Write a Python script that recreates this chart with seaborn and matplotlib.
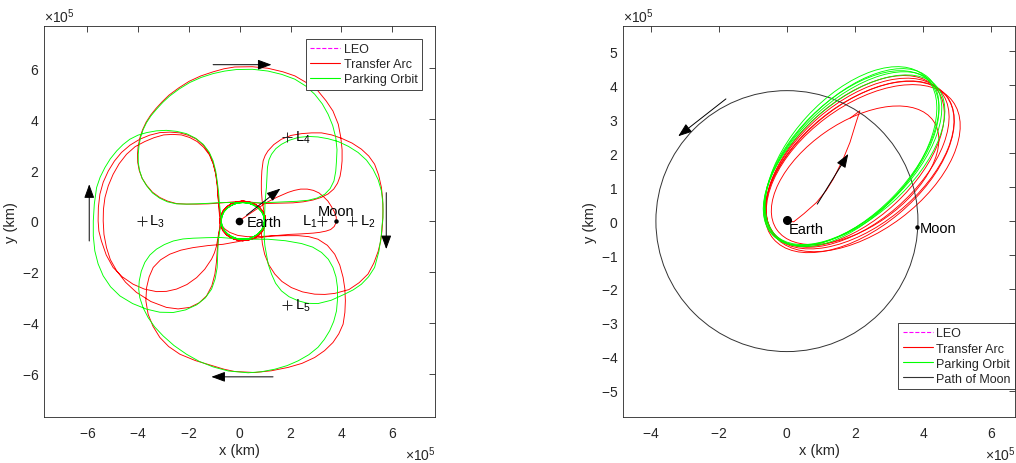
import matplotlib
matplotlib.use("Agg")
import matplotlib.pyplot as plt
from matplotlib.patches import Ellipse, Circle
from matplotlib.lines import Line2D
from matplotlib.ticker import ScalarFormatter
import seaborn as sns

KM = 1e5  # all values below are read in units of 1e5 km

# ===================== LEFT PANEL (rotating frame) =====================
# Parking orbit (green): four apogee passages joined by perigee loops
GT_X = [-0.79, -1.25, -1.70, -2.10, -2.49, -2.85, -3.15, -3.44, -3.67, -3.84, -3.94, -4.00, -4.00, -3.97, -3.91,
        -3.81, -3.67, -3.49, -3.28, -3.03, -2.76, -2.38, -1.97, -1.52, -1.05, -0.59, -0.13, 0.50, 1.11, 1.65,
        2.17, 2.60, 2.95, 3.25, 3.48, 3.66, 3.78, 3.83, 3.81, 3.78, 3.71, 3.56, 3.35, 3.05, 2.69, 2.25, 1.77,
        1.30, 0.85]
GT_Y = [0.72, 0.69, 0.67, 0.66, 0.67, 0.75, 0.89, 1.10, 1.38, 1.66, 1.96, 2.29, 2.62, 2.95, 3.28,
        3.58, 3.87, 4.14, 4.39, 4.66, 4.91, 5.19, 5.44, 5.64, 5.79, 5.89, 5.95, 5.96, 5.89, 5.76,
        5.57, 5.30, 4.98, 4.60, 4.19, 3.75, 3.28, 2.80, 2.36, 1.95, 1.57, 1.27, 1.05, 0.90, 0.81, 0.77, 0.75,
        0.73, 0.71]
GR_X = [1.00, 1.05, 1.07, 1.09, 1.15, 1.25, 1.42, 1.64, 1.95, 2.30, 2.70, 3.08, 3.48, 3.87, 4.28, 4.66, 4.99,
        5.25, 5.45, 5.58, 5.64, 5.64, 5.60, 5.58, 5.48, 5.31, 5.07, 4.79, 4.47, 4.13, 3.60, 3.08, 2.68, 2.30,
        1.94, 1.64, 1.41, 1.25, 1.12, 1.05, 0.99, 0.96]
GR_Y = [0.80, 1.31, 1.72, 2.10, 2.40, 2.62, 2.84, 3.01, 3.17, 3.28, 3.32, 3.30, 3.23, 3.12, 2.93, 2.69, 2.39,
        2.03, 1.62, 1.18, 0.66, 0.13, -0.20, -0.52, -1.20, -1.83, -2.20, -2.49, -2.71, -2.88, -3.12, -3.25,
        -3.24, -3.14, -2.98, -2.75, -2.45, -2.09, -1.70, -1.31, -0.98, -0.65]
GB_X = [1.11, 1.80, 2.43, 2.87, 3.22, 3.49, 3.67, 3.79, 3.85, 3.85, 3.81, 3.70, 3.54, 3.33, 3.08, 2.72, 2.30,
        1.86, 1.38, 0.85, 0.33, -0.45, -1.05, -1.60, -2.10, -2.59, -3.02, -3.35, -3.61, -3.81, -3.94, -3.98,
        -3.96, -3.88, -3.74, -3.54, -3.28, -2.97, -2.62, -2.24, -1.84, -1.30, -0.79]
GB_Y = [-0.72, -0.78, -0.89, -1.03, -1.24, -1.51, -1.83, -2.20, -2.62, -3.08, -3.54, -3.95, -4.32, -4.66,
        -4.97, -5.26, -5.50, -5.69, -5.83, -5.93, -5.97, -5.90, -5.74, -5.52, -5.24, -4.90, -4.52, -4.17,
        -3.80, -3.41, -3.01, -2.68, -2.36, -1.98, -1.63, -1.34, -1.11, -0.93, -0.79, -0.71, -0.68, -0.66, -0.65]
GL_X = [-0.85, -0.87, -0.89, -0.97, -1.11, -1.36, -1.70, -2.14, -2.62, -3.15, -3.67, -4.22, -4.72, -5.09,
        -5.38, -5.58, -5.71, -5.77, -5.77, -5.73, -5.64, -5.50, -5.31, -5.10, -4.85, -4.60, -4.33, -4.01,
        -3.67, -3.28, -2.89, -2.49, -2.10, -1.74, -1.44, -1.21, -1.05, -0.95, -0.89, -0.84, -0.81]
GL_Y = [-0.79, -1.30, -1.83, -2.28, -2.68, -3.03, -3.30, -3.50, -3.60, -3.59, -3.47, -3.25, -2.95, -2.59,
        -2.16, -1.69, -1.18, -0.59, 0.00, 0.66, 1.31, 1.72, 2.10, 2.44, 2.75, 3.00, 3.21, 3.37,
        3.47, 3.54, 3.56, 3.52, 3.43, 3.25, 3.01, 2.71, 2.36, 1.97, 1.57, 1.18, 0.79]
# perigee loop around the Earth, every 15 deg starting at the top and turning counter-clockwise
G_LOOP_X = [0.12, -0.10, -0.31, -0.48, -0.62, -0.70, -0.73, -0.70, -0.62, -0.48, -0.31, -0.10,
            0.12, 0.34, 0.55, 0.72, 0.86, 0.94, 0.97, 0.94, 0.86, 0.72, 0.55, 0.34]
G_LOOP_Y = [0.72, 0.70, 0.62, 0.51, 0.36, 0.19, 0.00, -0.19, -0.36, -0.51, -0.62, -0.70,
            -0.72, -0.70, -0.62, -0.51, -0.36, -0.19, 0.00, 0.19, 0.36, 0.51, 0.62, 0.70]

# Transfer arc (red): lunar loop, then five apogee passages
RM_X = [-0.05, 0.12, 0.30, 0.66, 1.05, 1.44, 1.90, 2.15, 2.40, 2.66, 2.90, 3.12, 3.30, 3.47, 3.60, 3.72, 3.80,
        3.80, 3.72, 3.58, 3.40, 3.15, 2.89, 2.43, 1.97, 1.50, 1.05, 0.68, 0.30, -0.08, -0.40, -0.60, -0.72]
RM_Y = [0.00, 0.10, 0.22, 0.46, 0.72, 0.92, 1.12, 1.20, 1.25, 1.25, 1.20, 1.10, 0.95, 0.78, 0.58, 0.37, 0.15,
        -0.05, -0.22, -0.34, -0.40, -0.45, -0.48, -0.51, -0.53, -0.57, -0.60, -0.62, -0.62, -0.57, -0.45,
        -0.31, -0.15]
RLA_X = [-0.81, -0.85, -0.92, -1.00, -1.11, -1.38, -1.70, -2.08, -2.49, -2.89, -3.28, -3.76, -4.20, -4.64,
         -4.99, -5.26, -5.45, -5.55, -5.58, -5.57, -5.51, -5.38, -5.18, -4.94, -4.66, -4.32, -3.94, -3.55,
         -3.15, -2.75, -2.36, -2.01, -1.70, -1.41, -1.18, -1.04, -0.94, -0.88, -0.85, -0.81]
RLA_Y = [-0.40, -0.60, -1.00, -1.26, -1.50, -1.90, -2.23, -2.50, -2.68, -2.77, -2.78, -2.68, -2.49, -2.19,
         -1.83, -1.34, -0.79, -0.40, 0.00, 0.53, 1.05, 1.52, 1.96, 2.35, 2.69, 2.98, 3.21, 3.37,
         3.47, 3.49, 3.46, 3.36, 3.21, 2.95, 2.62, 2.24, 1.83, 1.37, 0.92, 0.45]
RT_X = [-0.80, -1.25, -1.70, -2.10, -2.49, -2.85, -3.15, -3.44, -3.67, -3.85, -3.96, -4.02, -4.03, -4.00,
        -3.93, -3.83, -3.69, -3.51, -3.30, -3.05, -2.78, -2.40, -1.99, -1.53, -1.05, -0.62, -0.20, 0.50, 1.11,
        1.70, 2.17, 2.65, 3.08, 3.40, 3.67, 3.88, 3.98, 4.03, 4.03, 4.00, 3.95, 3.85, 3.70, 3.48, 3.20, 2.88,
        2.50, 2.10, 1.70, 1.30, 0.90]
RT_Y = [0.70, 0.67, 0.66, 0.66, 0.68, 0.78, 0.92, 1.13, 1.40, 1.68, 1.98, 2.30, 2.62, 2.95,
        3.28, 3.58, 3.88, 4.16, 4.42, 4.69, 4.95, 5.23, 5.49, 5.70, 5.86, 5.98, 6.05, 6.06, 6.00,
        5.86, 5.70, 5.42, 5.11, 4.72, 4.32, 3.80, 3.28, 2.80, 2.36, 2.05, 1.75, 1.48, 1.25, 1.06, 0.92, 0.82,
        0.75, 0.71, 0.70, 0.69, 0.68]
RR_X = [0.88, 0.85, 0.85, 0.87, 0.92, 1.00, 1.11, 1.34, 1.64, 2.02, 2.43, 2.83, 3.22, 3.62, 4.00, 4.42, 4.79,
        5.08, 5.31, 5.47, 5.58, 5.63, 5.64, 5.63, 5.60, 5.55, 5.45, 5.28, 5.05, 4.70, 4.30, 3.74, 3.35, 2.95,
        2.47, 2.03, 1.66, 1.38, 1.14, 0.98, 0.89, 0.85]
RR_Y = [0.80, 1.20, 1.57, 1.97, 2.36, 2.57, 2.75, 3.00, 3.21, 3.36, 3.43, 3.46, 3.46, 3.38, 3.25, 3.06, 2.82,
        2.55, 2.23, 1.80, 1.31, 0.85, 0.39, 0.00, -0.40, -0.80, -1.20, -1.66, -2.09, -2.43, -2.70, -2.85,
        -2.89, -2.88, -2.79, -2.62, -2.38, -2.09, -1.72, -1.31, -0.90, -0.50]
RB_X = [0.65, 1.20, 1.75, 2.30, 2.72, 3.08, 3.45, 3.74, 3.94, 4.07, 4.14, 4.16, 4.14, 4.07, 3.90, 3.67, 3.34,
        2.95, 2.45, 1.90, 1.25, 0.59, -0.20, -0.62, -1.05, -1.75, -2.36, -2.80, -3.15, -3.42, -3.61, -3.70,
        -3.67, -3.57, -3.41, -3.12, -2.76, -2.32, -1.84, -1.25, -0.66]
RB_Y = [-0.68, -0.60, -0.58, -0.58, -0.62, -0.72, -0.96, -1.31, -1.74, -2.22, -2.68, -3.14, -3.60, -4.06,
        -4.44, -4.78, -5.10, -5.37, -5.60, -5.76, -5.89, -5.96, -5.92, -5.83, -5.70, -5.49, -5.24, -4.94,
        -4.58, -4.14, -3.67, -3.14, -2.62, -2.20, -1.83, -1.53, -1.31, -1.15, -1.05, -0.97, -0.92]
RLB_X = [-0.80, -0.84, -0.89, -0.92, -0.98, -1.10, -1.31, -1.60, -1.97, -2.43, -2.89, -3.50, -4.07, -4.50,
         -4.85, -5.10, -5.25, -5.35, -5.38, -5.37, -5.31, -5.18, -4.99, -4.75, -4.46, -4.12, -3.74, -3.38,
         -3.00, -2.65, -2.30, -1.98, -1.68, -1.42, -1.20, -1.05, -0.95, -0.89, -0.86, -0.82, -0.80]
RLB_Y = [-0.30, -0.70, -1.18, -1.63, -2.09, -2.55, -2.95, -3.22, -3.40, -3.46, -3.40, -3.17, -2.81, -2.41,
         -1.96, -1.52, -1.05, -0.53, 0.00, 0.46, 0.92, 1.38, 1.83, 2.25, 2.62, 2.92, 3.12, 3.27,
         3.38, 3.40, 3.38, 3.28, 3.12, 2.89, 2.60, 2.25, 1.85, 1.40, 0.95, 0.55, 0.20]
R_LOOP_X = [0.12, -0.11, -0.33, -0.52, -0.66, -0.75, -0.78, -0.75, -0.66, -0.52, -0.33, -0.11,
            0.12, 0.35, 0.57, 0.76, 0.90, 0.99, 1.02, 0.99, 0.90, 0.76, 0.57, 0.35]
R_LOOP_Y = [0.78, 0.75, 0.68, 0.55, 0.39, 0.20, 0.00, -0.20, -0.39, -0.55, -0.68, -0.75,
            -0.78, -0.75, -0.68, -0.55, -0.39, -0.20, 0.00, 0.20, 0.39, 0.55, 0.68, 0.75]

# order in which the perigee loop points are visited between two passages
SEG_TOP_TO_RIGHT = list(range(0, 19))
SEG_RIGHT_TO_BOTTOM = list(range(18, 24)) + list(range(0, 13))
SEG_BOTTOM_TO_LEFT = list(range(12, 24)) + list(range(0, 7))
SEG_LEFT_TO_TOP = list(range(6, 24)) + [0]

LAG_X = [3.22, 4.42, -3.87, 1.86, 1.86]
LAG_Y = [0.00, 0.00, 0.00, 3.31, -3.31]
LAG_LABEL = ["1", "2", "3", "4", "5"]
LAG_TEXT_X = [3.04, 4.75, -3.58, 2.18, 2.18]
LAG_TEXT_HA = ["right", "left", "left", "left", "left"]
EARTH_ROT = [-0.05, 0.00]
MOON_ROT = [3.78, 0.00]
LEO_R = 0.06678

ARR_L_TAIL_X = [-1.05, 5.77, 1.31, -5.93, 0.26]
ARR_L_TAIL_Y = [6.14, 1.11, -6.13, -0.79, 0.22]
ARR_L_HEAD_X = [1.25, 5.77, -1.12, -5.93, 1.60]
ARR_L_HEAD_Y = [6.14, -1.11, -6.13, 1.44, 1.27]

# ===================== RIGHT PANEL (inertial frame) =====================
ORB_G_CX = [1.88, 1.90, 1.93, 1.97, 1.90]
ORB_G_CY = [1.90, 1.88, 1.84, 1.80, 1.87]
ORB_G_W = [6.42, 6.50, 6.50, 6.50, 6.40]
ORB_G_H = [3.50, 3.36, 3.36, 3.36, 3.40]
ORB_G_ANG = [47.7, 46, 44, 42, 45]

ORB_R_CX = [2.00, 2.24, 2.14, 2.13, 2.07, 2.00]
ORB_R_CY = [1.35, 1.56, 1.65, 1.60, 1.72, 1.77]
ORB_R_W = [5.60, 6.56, 6.50, 6.60, 6.44, 6.40]
ORB_R_H = [3.08, 3.68, 3.56, 3.60, 3.50, 3.44]
ORB_R_ANG = [35, 37, 39, 40, 41, 43]

TRANSFER_X = [0.00, 0.20, 0.50, 0.87, 1.15, 1.36, 1.65, 1.85, 2.03, 2.14, 1.85]
TRANSFER_Y = [0.00, -0.02, 0.22, 0.55, 0.90, 1.24, 1.83, 2.32, 2.91, 3.25, 3.03]

MOON_ORBIT_R = 3.844
EARTH_IN = [0.00, 0.02]
MOON_IN = [3.81, -0.17]

ARR_R_TAIL_X = [-1.79, 0.89]
ARR_R_TAIL_Y = [3.60, 0.50]
ARR_R_HEAD_X = [-3.19, 1.80]
ARR_R_HEAD_Y = [2.50, 1.98]

# ===================== styling =====================
sns.set_theme(style="white")
plt.rcParams.update({
    "font.family": ["Liberation Sans", "DejaVu Sans"],
    "axes.unicode_minus": False,
    "mathtext.fontset": "custom",
    "mathtext.rm": "Liberation Sans",
    "mathtext.it": "Liberation Sans:italic",
    "mathtext.bf": "Liberation Sans:bold",
    "xtick.direction": "in",
    "ytick.direction": "in",
    "xtick.top": True,
    "ytick.right": True,
})
INK = "#262626"
RED = "#ff0000"
GREEN = "#00ff00"
MAG = "#ff00ff"

fig = plt.figure(figsize=(10.16, 4.64), dpi=100)
axL = fig.add_axes([0.0436, 0.0985, 0.3848, 0.8427])
axR = fig.add_axes([0.6135, 0.0985, 0.3858, 0.8427])


def build(parts):
    xs, ys = [], []
    for px, py in parts:
        xs += list(px)
        ys += list(py)
    return [v * KM for v in xs], [v * KM for v in ys]


def loop(lx, ly, idx):
    return [lx[i] for i in idx], [ly[i] for i in idx]


green_x, green_y = build([
    (GT_X, GT_Y), loop(G_LOOP_X, G_LOOP_Y, SEG_TOP_TO_RIGHT),
    (GR_X, GR_Y), loop(G_LOOP_X, G_LOOP_Y, SEG_RIGHT_TO_BOTTOM),
    (GB_X, GB_Y), loop(G_LOOP_X, G_LOOP_Y, SEG_BOTTOM_TO_LEFT),
    (GL_X, GL_Y), loop(G_LOOP_X, G_LOOP_Y, SEG_LEFT_TO_TOP),
    (GT_X[:1], GT_Y[:1]),
])
red_x, red_y = build([
    (RM_X, RM_Y), (RLA_X, RLA_Y), loop(R_LOOP_X, R_LOOP_Y, SEG_LEFT_TO_TOP),
    (RT_X, RT_Y), loop(R_LOOP_X, R_LOOP_Y, SEG_TOP_TO_RIGHT),
    (RR_X, RR_Y), loop(R_LOOP_X, R_LOOP_Y, SEG_RIGHT_TO_BOTTOM),
    (RB_X, RB_Y), loop(R_LOOP_X, R_LOOP_Y, SEG_BOTTOM_TO_LEFT),
    (RLB_X, RLB_Y),
])

LW = 0.65
arrow_kw = dict(arrowstyle="-|>,head_length=0.6,head_width=0.22", mutation_scale=14,
                lw=0.7, color="black", shrinkA=0, shrinkB=0)

# ---- left panel ----
axL.add_patch(Circle((EARTH_ROT[0] * KM, EARTH_ROT[1] * KM), LEO_R * KM, fill=False,
                     ec=MAG, ls="--", lw=LW, zorder=2))
sns.lineplot(x=red_x, y=red_y, sort=False, estimator=None, color=RED, lw=LW, ax=axL, legend=False, zorder=2)
sns.lineplot(x=green_x, y=green_y, sort=False, estimator=None, color=GREEN, lw=LW, ax=axL, legend=False,
             zorder=3)
for ln in axL.get_lines():
    ln.set_solid_joinstyle("round")

for tx, ty, hx, hy in zip(ARR_L_TAIL_X, ARR_L_TAIL_Y, ARR_L_HEAD_X, ARR_L_HEAD_Y):
    axL.annotate("", xy=(hx * KM, hy * KM), xytext=(tx * KM, ty * KM), arrowprops=arrow_kw, zorder=6)

axL.plot([v * KM for v in LAG_X], [v * KM for v in LAG_Y], ls="none", marker="+", ms=7, mew=0.7,
         color=INK, zorder=5)
for lab, lx, ly, ha in zip(LAG_LABEL, LAG_TEXT_X, LAG_Y, LAG_TEXT_HA):
    axL.text(lx * KM, ly * KM, r"$\mathregular{L_{%s}}$" % lab, ha=ha, va="center", fontsize=10.5,
             color="black", zorder=6)
axL.plot([EARTH_ROT[0] * KM], [EARTH_ROT[1] * KM], "o", color="black", ms=4.5, zorder=6)
axL.plot([MOON_ROT[0] * KM], [MOON_ROT[1] * KM], "o", color="black", ms=2.2, zorder=6)
axL.text(0.29 * KM, -0.04 * KM, "Earth", ha="left", va="center", fontsize=10.5, color="black", zorder=6)
axL.text(3.81 * KM, 0.39 * KM, "Moon", ha="center", va="center", fontsize=10.5, color="black", zorder=6)

axL.set_xlim(-7.7 * KM, 7.7 * KM)
axL.set_ylim(-7.72 * KM, 7.65 * KM)
axL.set_xticks([v * KM for v in [-6, -4, -2, 0, 2, 4, 6]])
axL.set_yticks([v * KM for v in [-6, -4, -2, 0, 2, 4, 6]])

# ---- right panel ----
for cx, cy, w, h, a in zip(ORB_R_CX, ORB_R_CY, ORB_R_W, ORB_R_H, ORB_R_ANG):
    axR.add_patch(Ellipse((cx * KM, cy * KM), w * KM, h * KM, angle=a, fill=False, ec=RED, lw=LW, zorder=2))
sns.lineplot(x=[v * KM for v in TRANSFER_X], y=[v * KM for v in TRANSFER_Y], sort=False, estimator=None,
             color=RED, lw=LW, ax=axR, legend=False, zorder=2)
for cx, cy, w, h, a in zip(ORB_G_CX, ORB_G_CY, ORB_G_W, ORB_G_H, ORB_G_ANG):
    axR.add_patch(Ellipse((cx * KM, cy * KM), w * KM, h * KM, angle=a, fill=False, ec=GREEN, lw=LW, zorder=3))
axR.add_patch(Circle((0, 0), MOON_ORBIT_R * KM, fill=False, ec="#333333", lw=0.7, zorder=2))
axR.add_patch(Circle((EARTH_IN[0] * KM, EARTH_IN[1] * KM), LEO_R * KM, fill=False, ec=MAG, ls="--", lw=LW,
                     zorder=2))

for tx, ty, hx, hy in zip(ARR_R_TAIL_X, ARR_R_TAIL_Y, ARR_R_HEAD_X, ARR_R_HEAD_Y):
    axR.annotate("", xy=(hx * KM, hy * KM), xytext=(tx * KM, ty * KM), arrowprops=arrow_kw, zorder=6)

axR.plot([EARTH_IN[0] * KM], [EARTH_IN[1] * KM], "o", color="black", ms=5.5, zorder=6)
axR.plot([MOON_IN[0] * KM], [MOON_IN[1] * KM], "o", color="black", ms=2.2, zorder=6)
axR.text(0.04 * KM, -0.24 * KM, "Earth", ha="left", va="center", fontsize=10.5, color="black", zorder=6)
axR.text(3.90 * KM, -0.21 * KM, "Moon", ha="left", va="center", fontsize=10.5, color="black", zorder=6)

axR.set_xlim(-4.8 * KM, 6.7 * KM)
axR.set_ylim(-5.78 * KM, 5.74 * KM)
axR.set_xticks([v * KM for v in [-4, -2, 0, 2, 4, 6]])
axR.set_yticks([v * KM for v in range(-5, 6)])

# ---- common axes styling ----
for ax in (axL, axR):
    for s in ax.spines.values():
        s.set_color(INK)
        s.set_linewidth(0.6)
        s.set_visible(True)
    ax.tick_params(axis="both", which="major", length=4, width=0.6, color=INK, labelcolor=INK,
                   labelsize=10, top=True, right=True, direction="in")
    ax.tick_params(axis="x", pad=6.5)
    ax.tick_params(axis="y", pad=3.5)
    for axis in (ax.xaxis, ax.yaxis):
        fmt = ScalarFormatter(useMathText=True)
        fmt.set_powerlimits((0, 0))
        axis.set_major_formatter(fmt)
        axis.get_offset_text().set_fontsize(10)
        axis.get_offset_text().set_color(INK)
    ax.set_xlabel("x (km)", fontsize=10.5, color=INK, labelpad=2)
    ax.set_ylabel("y (km)", fontsize=10.5, color=INK, labelpad=3)
    ax.grid(False)
    ax.set_facecolor("white")

legend_kw = dict(fontsize=9, handlelength=2.4, handletextpad=0.3, borderpad=0.35, labelspacing=0.25,
                 fancybox=False, framealpha=1, edgecolor=INK, borderaxespad=0)
h_leo = Line2D([], [], color=MAG, ls="--", lw=0.8)
h_tr = Line2D([], [], color=RED, lw=0.8)
h_pk = Line2D([], [], color=GREEN, lw=0.8)
h_mo = Line2D([], [], color="#333333", lw=0.8)
legL = axL.legend([h_leo, h_tr, h_pk], ["LEO", "Transfer Arc", "Parking Orbit"], loc="upper right",
                  bbox_to_anchor=(0.967, 0.968), **legend_kw)
legR = axR.legend([h_leo, h_tr, h_pk, h_mo], ["LEO", "Transfer Arc", "Parking Orbit", "Path of Moon"],
                  loc="lower right", bbox_to_anchor=(1.0, 0.072), **legend_kw)
for lg in (legL, legR):
    lg.get_frame().set_linewidth(0.6)
    lg.set_zorder(10)

fig.savefig("out.png", dpi=100, facecolor="white")
